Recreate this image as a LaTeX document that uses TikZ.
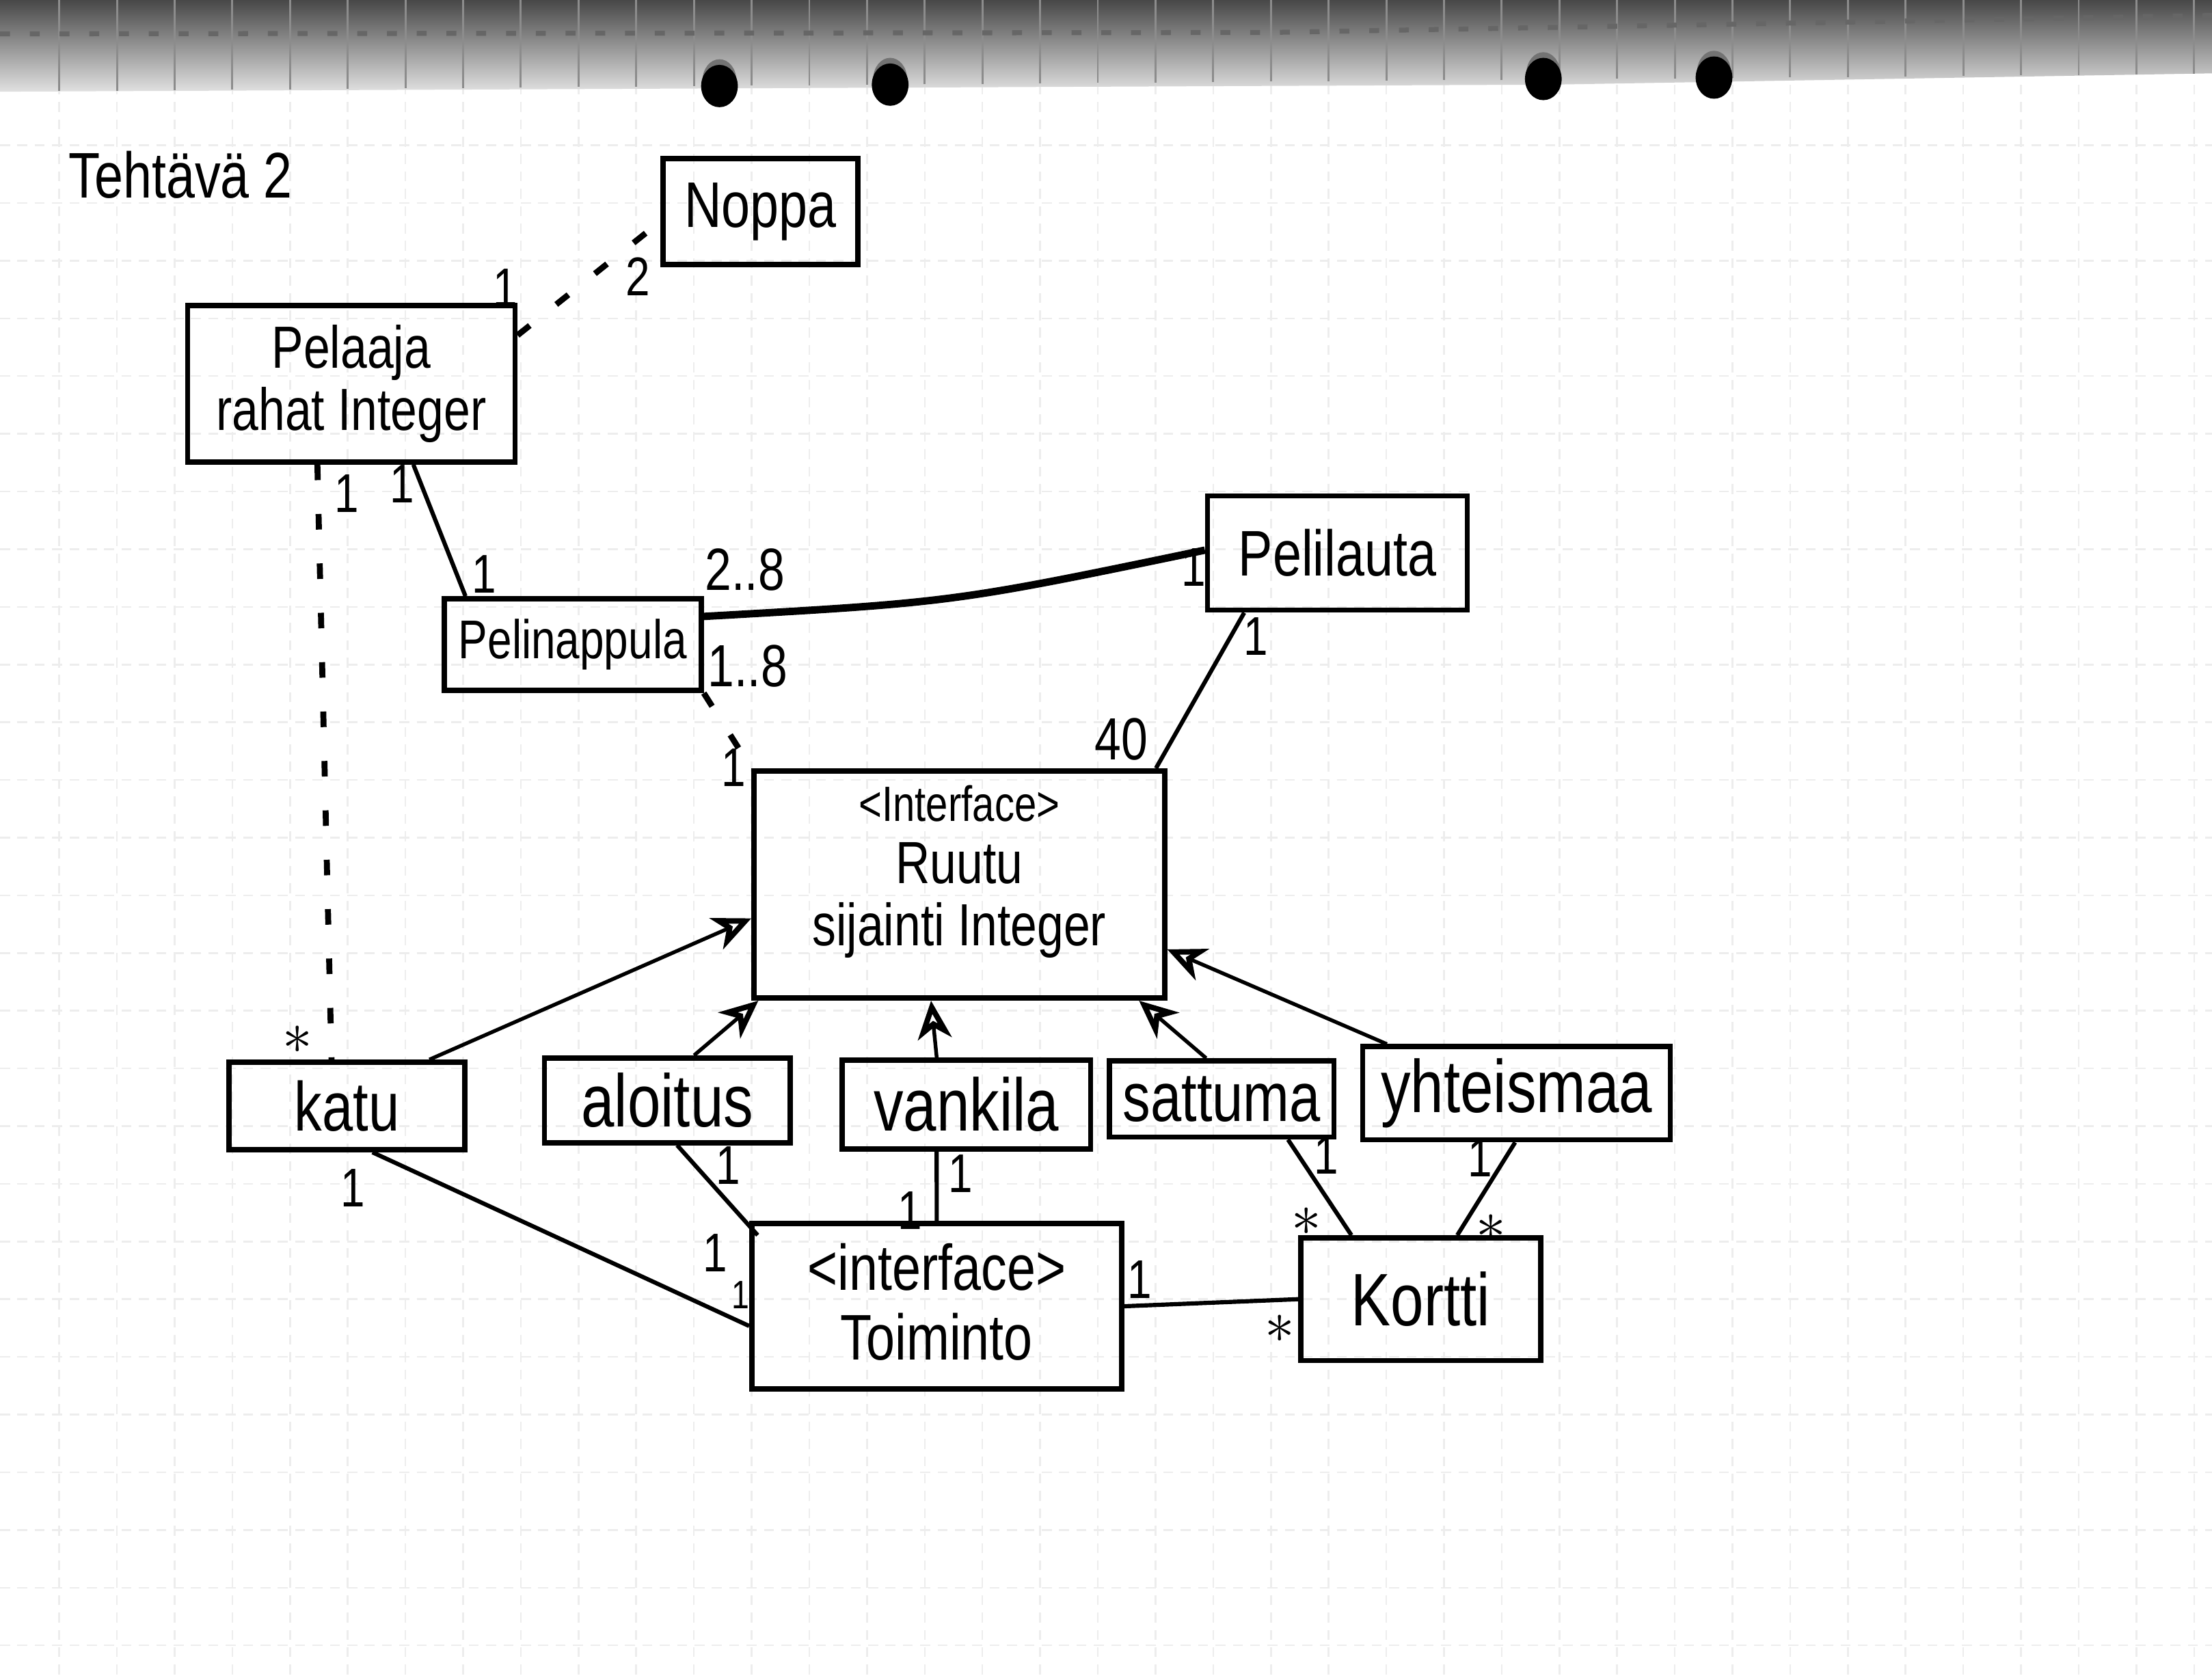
\documentclass[tikz,border=0pt]{standalone}
\usepackage{fontspec}
\setmainfont{Liberation Sans}[FakeStretch=0.8]
\usetikzlibrary{arrows.meta,calc}

\begin{document}
\begin{tikzpicture}[x=0.01cm,y=-0.01cm,
  box/.style={draw, line width=1.05pt, inner sep=0pt, align=center},
  fs/.style={font=\fontsize{#1}{#1}\selectfont},
  mult/.style={font=\fontsize{11}{12}\selectfont, inner sep=0pt},
  star/.style={font=\fontsize{12}{12}\selectfont, inner sep=0pt},
  assoc/.style={line width=0.85pt},
  dep/.style={line width=1.2pt, dash pattern=on 0.11cm off 0.24cm},
  gen/.style={line width=0.75pt, -{Stealth[open, length=0.27cm, width=0.24cm, inset=0.08cm, line width=1.1pt]}},
  gridline/.style={line width=0.35pt, black!7, dash pattern=on 2pt off 1.5pt},
]
% paper
\fill[white] (0,0) rectangle (1568,1188);
\useasboundingbox (0,0) rectangle (1568,1188);

% squared grid of the sheet
\foreach \k in {0,...,37} {
  \draw[gridline] ({42+40.9*\k},60) -- ({42+40.9*\k},1188);
}
\foreach \k in {0,...,26} {
  \draw[gridline] (0,{103+40.9*\k}) -- (1568,{103+40.9*\k});
}

% shadowed upper edge of the sheet with its punched holes
\shade[top color=black!72, bottom color=black!12]
  (0,0) -- (1568,0) -- (1568,52) -- (1100,60) -- (0,65) -- cycle;
\foreach \k in {0,...,37} {
  \draw[line width=0.4pt, black!45] ({42+40.9*\k},0) -- ({42+40.9*\k},{65-0.008*(42+40.9*\k)});
}
\draw[black!60, line width=1pt, dash pattern=on 2pt off 4pt]
  (0,24) -- (900,23) -- (1568,11);
\foreach \hx/\hy in {510/61, 631/60, 1094/56, 1215/55} {
  \fill[black!55] (\hx,\hy-4) ellipse [x radius=0.12cm, y radius=0.15cm];
  \fill[black] (\hx,\hy) ellipse [x radius=0.13cm, y radius=0.15cm];
}

% title
\node[fs=13] (title) at (128,124) {Tehtävä 2};

% classes
\node[box, fs=13, minimum width=1.38cm, minimum height=0.75cm] (noppa) at (539,150) {Noppa};
\node[box, fs=12, minimum width=2.32cm, minimum height=1.11cm] (pelaaja) at (249,272)
  {Pelaaja\\[0.02cm]rahat Integer};
\node[box, fs=11, minimum width=1.82cm, minimum height=0.65cm] (pelinappula) at (406,457) {Pelinappula};
\node[box, fs=13, minimum width=1.84cm, minimum height=0.81cm] (pelilauta) at (948,392) {Pelilauta};
\node[box, minimum width=2.91cm, minimum height=1.61cm] (ruutu) at (680,627) {};
\node[fs=12, align=center, inner sep=0pt] (ruutulbl) at (680,618)
  {{\fontsize{10}{10}\selectfont\textless Interface\textgreater}\\[0.02cm]Ruutu\\[0.02cm]sijainti Integer};
\node[box, fs=14, minimum width=1.67cm, minimum height=0.62cm] (katu) at (246,784) {katu};
\node[box, fs=15, minimum width=1.74cm, minimum height=0.60cm] (aloitus) at (473,780) {aloitus};
\node[box, fs=15, minimum width=1.76cm, minimum height=0.63cm] (vankila) at (685,783) {vankila};
\node[box, fs=14, minimum width=1.59cm, minimum height=0.54cm] (sattuma) at (866,779) {sattuma};
\node[box, fs=15, minimum width=2.18cm, minimum height=0.66cm] (yhteismaa) at (1075,775) {yhteismaa};
\node[box, minimum width=2.62cm, minimum height=1.17cm] (toiminto) at (664,926) {};
\node[fs=13, align=center, inner sep=0pt] (toimintolbl) at (664,923)
  {\textless interface\textgreater\\[0.04cm]Toiminto};
\node[box, fs=15, minimum width=1.70cm, minimum height=0.87cm] (kortti) at (1007,921) {Kortti};

% associations and dependencies
\draw[dep] ([yshift=-0.23cm]pelaaja.north east) -- ([yshift=-0.07cm]noppa.west);
\draw[assoc] ([xshift=0.44cm]pelaaja.south) -- ([xshift=-0.76cm]pelinappula.north);
\draw[dep] ([xshift=-0.24cm]pelaaja.south) -- ([xshift=-0.11cm]katu.north);
\draw[line width=1.5pt] ([yshift=0.2cm]pelinappula.east) .. controls (676,427) .. ([yshift=0.02cm]pelilauta.west);
\draw[dep] (pelinappula.south east) -- (ruutu.north west);
\draw[assoc] ([xshift=-0.66cm]pelilauta.south) -- ([xshift=-0.08cm]ruutu.north east);

% realizations of Ruutu
\draw[gen] ([xshift=-0.27cm]katu.north east) -- ([yshift=-0.24cm]ruutu.west);
\draw[gen] ([xshift=0.19cm]aloitus.north) -- ([xshift=0.05cm]ruutu.south west);
\draw[gen] ([xshift=-0.21cm]vankila.north) -- ([xshift=-0.2cm]ruutu.south);
\draw[gen] ([xshift=-0.11cm]sattuma.north) -- ([xshift=-0.2cm]ruutu.south east);
\draw[gen] ([xshift=0.19cm]yhteismaa.north west) -- ([yshift=-0.46cm]ruutu.east);

% lower associations
\draw[assoc] ([xshift=0.18cm]katu.south) -- ([yshift=-0.14cm]toiminto.west);
\draw[assoc] ([xshift=0.07cm]aloitus.south) -- ([xshift=0.06cm,yshift=-0.1cm]toiminto.north west);
\draw[assoc] ([xshift=-0.21cm]vankila.south) -- (toiminto.north);
\draw[assoc] ([xshift=0.47cm]sattuma.south) -- ([xshift=-0.49cm]kortti.north);
\draw[assoc] ([xshift=-0.01cm]yhteismaa.south) -- ([xshift=0.26cm]kortti.north);
\draw[assoc] (toiminto.east) -- (kortti.west);

% multiplicities
\node[mult] (m1) at (358,204) {1};
\node[mult] (m2) at (452,196) {2};
\node[mult] (m3) at (285,343) {1};
\node[mult] (m4) at (343,407) {1};
\node[mult] (m5) at (246,350) {1};
\node[star] (m6) at (211,737) {$\ast$};
\node[mult, fs=12] (m7) at (528,404) {2..8};
\node[mult] (m8) at (846,402) {1};
\node[mult, fs=12] (m9) at (530,472) {1..8};
\node[mult] (m10) at (520,544) {1};
\node[mult] (m11) at (890,451) {1};
\node[mult, fs=12] (m12) at (795,524) {40};
\node[mult] (m13) at (250,842) {1};
\node[mult, fs=8] (m14) at (525,918) {1};
\node[mult] (m15) at (516,826) {1};
\node[mult] (m16) at (507,888) {1};
\node[mult] (m17) at (681,832) {1};
\node[mult] (m18) at (645,858) {1};
\node[mult] (m19) at (940,819) {1};
\node[star] (m20) at (926,866) {$\ast$};
\node[mult] (m21) at (1049,821) {1};
\node[star] (m22) at (1057,871) {$\ast$};
\node[mult] (m23) at (808,907) {1};
\node[star] (m24) at (907,942) {$\ast$};
\end{tikzpicture}
\end{document}
